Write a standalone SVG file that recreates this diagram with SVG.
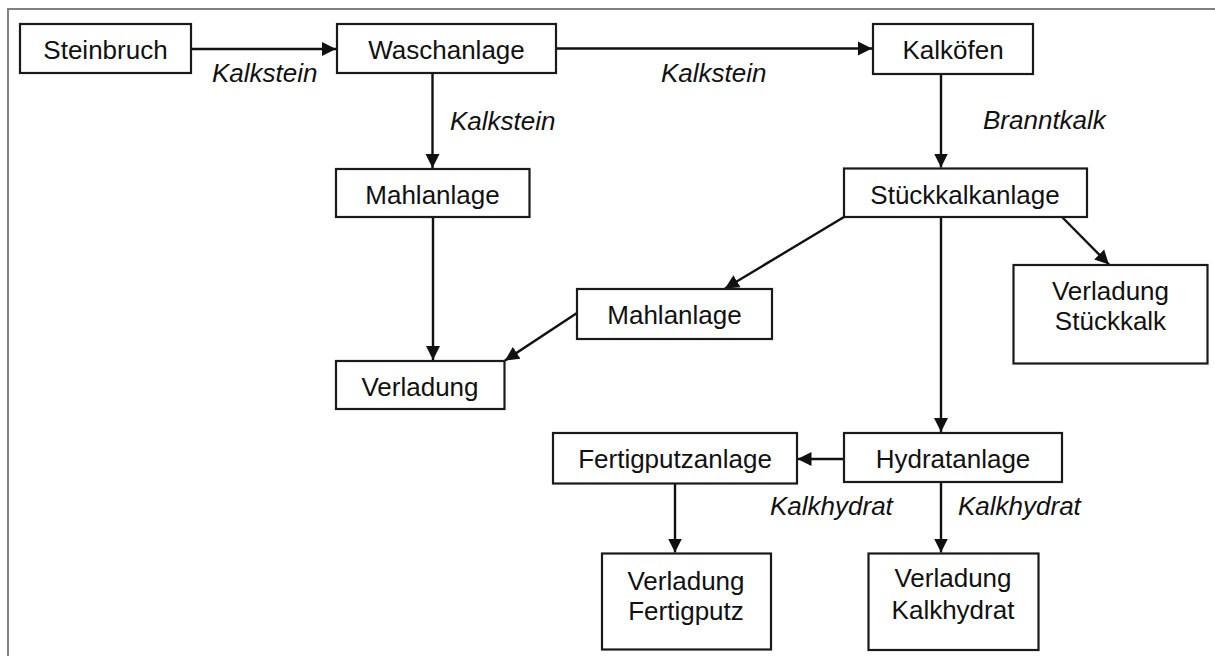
<svg xmlns="http://www.w3.org/2000/svg" width="1215" height="656" viewBox="0 0 1215 656">
<style>
.box{fill:#fff;stroke:#1a1a1a;stroke-width:2.2}
.t{font-family:"Liberation Sans",Arial,sans-serif;font-size:26px;fill:#111;text-anchor:middle}
.lbl{font-family:"Liberation Sans",Arial,sans-serif;font-size:26px;font-style:italic;fill:#111}
.c{fill:none;stroke:#111;stroke-width:2.4;marker-end:url(#ah)}
</style>
<defs>
<marker id="ah" markerUnits="userSpaceOnUse" markerWidth="15" markerHeight="15" viewBox="0 0 15 15" refX="14" refY="7.5" orient="auto">
<path d="M0,0.5 L14,7.5 L0,14.5 Z" fill="#111"/>
</marker>
</defs>
<rect x="0" y="0" width="1215" height="656" fill="#fff"/>
<rect x="8" y="9" width="1225" height="670" fill="none" stroke="#808080" stroke-width="2"/>
<g id="connectors">
<path class="c" d="M191,49 H336"/>
<path class="c" d="M556,48.5 H872"/>
<path class="c" d="M432.5,73 V168"/>
<path class="c" d="M941,74 V167.5"/>
<path class="c" d="M433,217 V360"/>
<path class="c" d="M844,217 L725,288.5"/>
<path class="c" d="M577,313 L505,360.5"/>
<path class="c" d="M1062,217 L1109,264.5"/>
<path class="c" d="M941,217 V432"/>
<path class="c" d="M844,459 H797.5"/>
<path class="c" d="M675,483 V552.5"/>
<path class="c" d="M941,482 V552.5"/>
</g>
<g id="labels">
<text class="lbl" x="212" y="82">Kalkstein</text>
<text class="lbl" x="661" y="82">Kalkstein</text>
<text class="lbl" x="450" y="130">Kalkstein</text>
<text class="lbl" x="983" y="129">Branntkalk</text>
<text class="lbl" x="770" y="515">Kalkhydrat</text>
<text class="lbl" x="958" y="515">Kalkhydrat</text>
</g>
<g id="steinbruch"><rect class="box" x="20" y="24" width="171" height="49"/><text class="t" x="105.5" y="59">Steinbruch</text></g>
<g id="waschanlage"><rect class="box" x="337" y="24" width="219" height="49"/><text class="t" x="446.5" y="59">Waschanlage</text></g>
<g id="kalkoefen"><rect class="box" x="873" y="24" width="160" height="50"/><text class="t" x="953" y="59">Kalköfen</text></g>
<g id="mahlanlage1"><rect class="box" x="336" y="169" width="193.5" height="48"/><text class="t" x="432.5" y="204">Mahlanlage</text></g>
<g id="stueckkalkanlage"><rect class="box" x="844" y="168.5" width="243" height="48.5"/><text class="t" x="965" y="203.5">Stückkalkanlage</text></g>
<g id="mahlanlage2"><rect class="box" x="577" y="289" width="195" height="50"/><text class="t" x="674.5" y="323.5">Mahlanlage</text></g>
<g id="verladung"><rect class="box" x="336" y="361" width="168.5" height="48"/><text class="t" x="420" y="396">Verladung</text></g>
<g id="verladung-stueckkalk"><rect class="box" x="1013.5" y="265" width="194" height="98.5"/><text class="t" x="1110.5" y="299.5">Verladung</text><text class="t" x="1110.5" y="330">Stückkalk</text></g>
<g id="fertigputzanlage"><rect class="box" x="553" y="433" width="244" height="50.5"/><text class="t" x="675" y="468">Fertigputzanlage</text></g>
<g id="hydratanlage"><rect class="box" x="844" y="433" width="218" height="49"/><text class="t" x="953" y="468">Hydratanlage</text></g>
<g id="verladung-fertigputz"><rect class="box" x="602" y="553.5" width="169" height="96"/><text class="t" x="686" y="589.5">Verladung</text><text class="t" x="686" y="619.5">Fertigputz</text></g>
<g id="verladung-kalkhydrat"><rect class="box" x="868.5" y="553.5" width="170" height="96.5"/><text class="t" x="953" y="587">Verladung</text><text class="t" x="953" y="619">Kalkhydrat</text></g>
</svg>
